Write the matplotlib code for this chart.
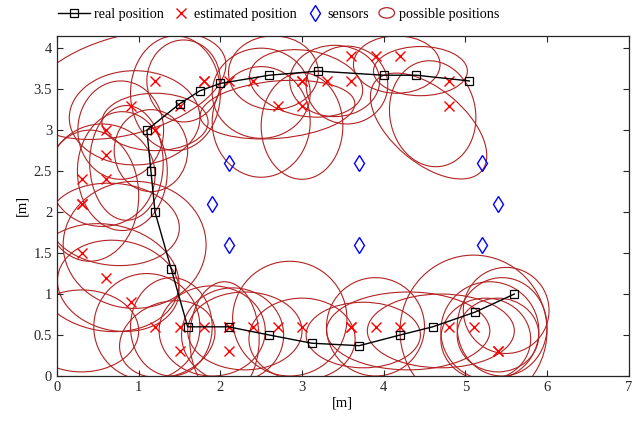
#!/usr/bin/env python3
import matplotlib
matplotlib.use("Agg")
import matplotlib.pyplot as plt
from matplotlib.patches import Ellipse
from matplotlib.legend_handler import HandlerPatch, HandlerLine2D

# ---------------------------------------------------------
# DATA
# ---------------------------------------------------------

real_x = [5.05, 4.4, 4.0, 3.2, 2.6, 2.0, 1.75, 1.5, 1.1, 1.15, 1.2, 1.4,
          1.6, 2.1, 2.6, 3.12, 3.7, 4.2, 4.6, 5.12, 5.6]
real_y = [3.6, 3.67, 3.67, 3.72, 3.67, 3.57, 3.48, 3.32, 3.0, 2.5, 2.0, 1.3,
          0.6, 0.6, 0.5, 0.4, 0.37, 0.5, 0.6, 0.78, 1.0]

est_x = [0.3, 0.3, 0.3, 0.6, 0.6, 0.6, 0.9, 1.2, 1.2, 1.5, 1.8, 1.8, 2.1,
         2.4, 2.7, 3.0, 3.0, 3.0, 3.3, 3.6, 3.6, 3.9, 4.2, 4.8, 4.8,
         0.3, 0.6, 0.9, 1.2, 1.5, 1.5, 1.8, 2.1, 2.1, 2.1, 2.4, 2.7, 3.0,
         3.6, 3.6, 3.9, 4.2, 4.8, 5.1, 5.4, 5.4]
est_y = [2.4, 2.1, 2.1, 3.0, 2.7, 2.4, 3.3, 3.6, 3.0, 3.3, 3.6, 3.6, 3.6,
         3.6, 3.3, 3.6, 3.6, 3.3, 3.6, 3.9, 3.6, 3.9, 3.9, 3.6, 3.3,
         1.5, 1.2, 0.9, 0.6, 0.6, 0.3, 0.6, 0.6, 0.6, 0.3, 0.6, 0.6, 0.6,
         0.6, 0.6, 0.6, 0.6, 0.6, 0.6, 0.3, 0.3]

sens_x = [2.1, 3.7, 5.2, 1.9, 5.4, 2.1, 3.7, 5.2]
sens_y = [2.6, 2.6, 2.6, 2.1, 2.1, 1.6, 1.6, 1.6]

# possible-position ellipses: centre x, centre y, width, height, angle
ell_cx = [0.85, 0.95, 1.2, 0.78, 1.15, 1.45, 1.55, 2.5, 2.7, 3.0, 2.65,
          3.4, 3.05, 4.16, 4.45, 4.6, 4.55, 2.5, 3.55,
          0.8, 0.85, 0.55, 0.95, 0.7, 0.4, 0.6, 0.75,
          1.1, 1.35, 1.4, 2.15, 2.05, 2.3, 2.85, 3.0, 3.9, 4.3, 3.75,
          5.1, 5.5, 5.3, 5.4, 5.25, 5.45, 4.7, 1.9, 0.3]
ell_cy = [3.55, 3.15, 3.1, 3.0, 2.75, 3.45, 3.6, 3.45, 3.25, 3.05, 3.7,
          3.6, 3.57, 3.8, 3.72, 3.2, 3.05, 3.1, 3.55,
          2.5, 2.6, 2.45, 1.6, 1.85, 2.2, 1.2, 1.1,
          0.6, 0.45, 0.6, 0.5, 0.45, 0.55, 0.7, 0.45, 0.6, 0.55, 0.5,
          0.55, 0.8, 0.55, 0.5, 0.45, 0.6, 0.55, 0.55, 0.55]
ell_w = [2.5, 1.6, 1.3, 1.05, 0.9, 1.1, 0.9, 1.2, 1.9, 1.0, 1.1,
         1.1, 1.4, 1.06, 1.15, 1.05, 1.7, 1.2, 1.0,
         1.1, 0.9, 1.3, 1.75, 1.6, 1.2, 1.8, 1.5,
         1.3, 1.2, 1.0, 1.25, 0.85, 1.4, 1.4, 1.3, 1.2, 2.0, 1.4,
         1.8, 1.05, 1.2, 1.0, 1.1, 1.1, 1.8, 1.3, 1.4]
ell_h = [1.2, 1.15, 0.7, 1.2, 1.0, 1.4, 1.0, 1.1, 0.7, 1.3, 0.9,
         0.87, 0.8, 0.7, 0.6, 1.3, 0.9, 1.35, 0.95,
         1.45, 1.4, 1.25, 1.55, 1.0, 1.6, 1.3, 1.1,
         1.3, 0.9, 1.2, 1.15, 1.4, 0.95, 1.4, 1.0, 1.2, 0.95, 0.8,
         1.85, 1.05, 1.2, 0.9, 1.0, 1.2, 0.9, 1.1, 1.0]
ell_ang = [15, 0, 0, 0, 0, 0, 0, 0, 5, 0, 0,
           0, -10, 0, 0, 10, -40, 0, 0,
           0, 0, 0, 0, -5, 0, -10, -10,
           0, 20, 0, 0, 0, 0, 0, 0, 0, 0, 0,
           0, 0, 0, 0, 0, 0, 0, 0, 0]

ell_color = "#b22222"

# ---------------------------------------------------------
# LEGEND HANDLERS
# ---------------------------------------------------------


class HandlerEllipse(HandlerPatch):
    def create_artists(self, legend, orig_handle, xdescent, ydescent,
                       width, height, fontsize, trans):
        center = 0.5 * width - 0.5 * xdescent, 0.5 * height - 0.5 * ydescent
        p = Ellipse(xy=center, width=width * 0.85, height=height * 1.05)
        self.update_prop(p, orig_handle, legend)
        p.set_transform(trans)
        return [p]


class HandlerLongLine(HandlerLine2D):
    # line handle reaches further left than the marker-only handles
    def create_artists(self, legend, orig_handle, xdescent, ydescent,
                       width, height, fontsize, trans):
        extra = 10
        return super().create_artists(legend, orig_handle, xdescent + extra,
                                      ydescent, width + extra, height,
                                      fontsize, trans)


# ---------------------------------------------------------
# PLOT
# ---------------------------------------------------------

plt.rcParams["font.family"] = ["Liberation Serif", "DejaVu Serif"]
plt.rcParams["font.size"] = 10.5

fig = plt.figure(figsize=(6.43, 4.22), dpi=100)
ax = fig.add_axes([0.0887, 0.109, 0.889, 0.806])

for cx, cy, w, h, a in zip(ell_cx, ell_cy, ell_w, ell_h, ell_ang):
    ax.add_patch(Ellipse((cx, cy), w, h, angle=a, fill=False,
                         edgecolor=ell_color, linewidth=0.8, zorder=1))

line_real, = ax.plot(real_x, real_y, color="black", linewidth=1.0,
                     marker="s", markersize=5.5, markerfacecolor="none",
                     markeredgecolor="black", markeredgewidth=0.9, zorder=3)
line_est, = ax.plot(est_x, est_y, linestyle="none", marker="x",
                    markersize=7, color="red", markeredgewidth=1.0, zorder=2)
line_sens, = ax.plot(sens_x, sens_y, linestyle="none", marker="d",
                     markersize=8.5, markerfacecolor="none",
                     markeredgecolor="blue", markeredgewidth=1.0, zorder=2)

ax.set_xlim(0, 7)
ax.set_ylim(0, 4.15)
ax.set_xticks(range(0, 8))
ax.set_yticks([0, 0.5, 1, 1.5, 2, 2.5, 3, 3.5, 4])
ax.set_yticklabels(["0", "0.5", "1", "1.5", "2", "2.5", "3", "3.5", "4"])
ax.set_xlabel("[m]", labelpad=2)
ax.set_ylabel("[m]", labelpad=4)

ax.tick_params(direction="in", top=True, right=True, length=4,
               width=0.8, colors="0.15", labelsize=10.5)
for s in ax.spines.values():
    s.set_color("0.15")
    s.set_linewidth(0.9)

proxy_ell = Ellipse((0, 0), 1, 1, fill=False, edgecolor=ell_color,
                    linewidth=0.9)

fig.legend([line_real, line_est, line_sens, proxy_ell],
           ["real position", "estimated position", "sensors",
            "possible positions"],
           handler_map={Ellipse: HandlerEllipse(),
                        line_real: HandlerLongLine()},
           loc="center left", bbox_to_anchor=(0.092, 0.966), ncol=4,
           frameon=False, fontsize=10.2, handlelength=1.3,
           handletextpad=0.25, columnspacing=0.6)

plt.savefig("out.png", dpi=100)
plt.close()
